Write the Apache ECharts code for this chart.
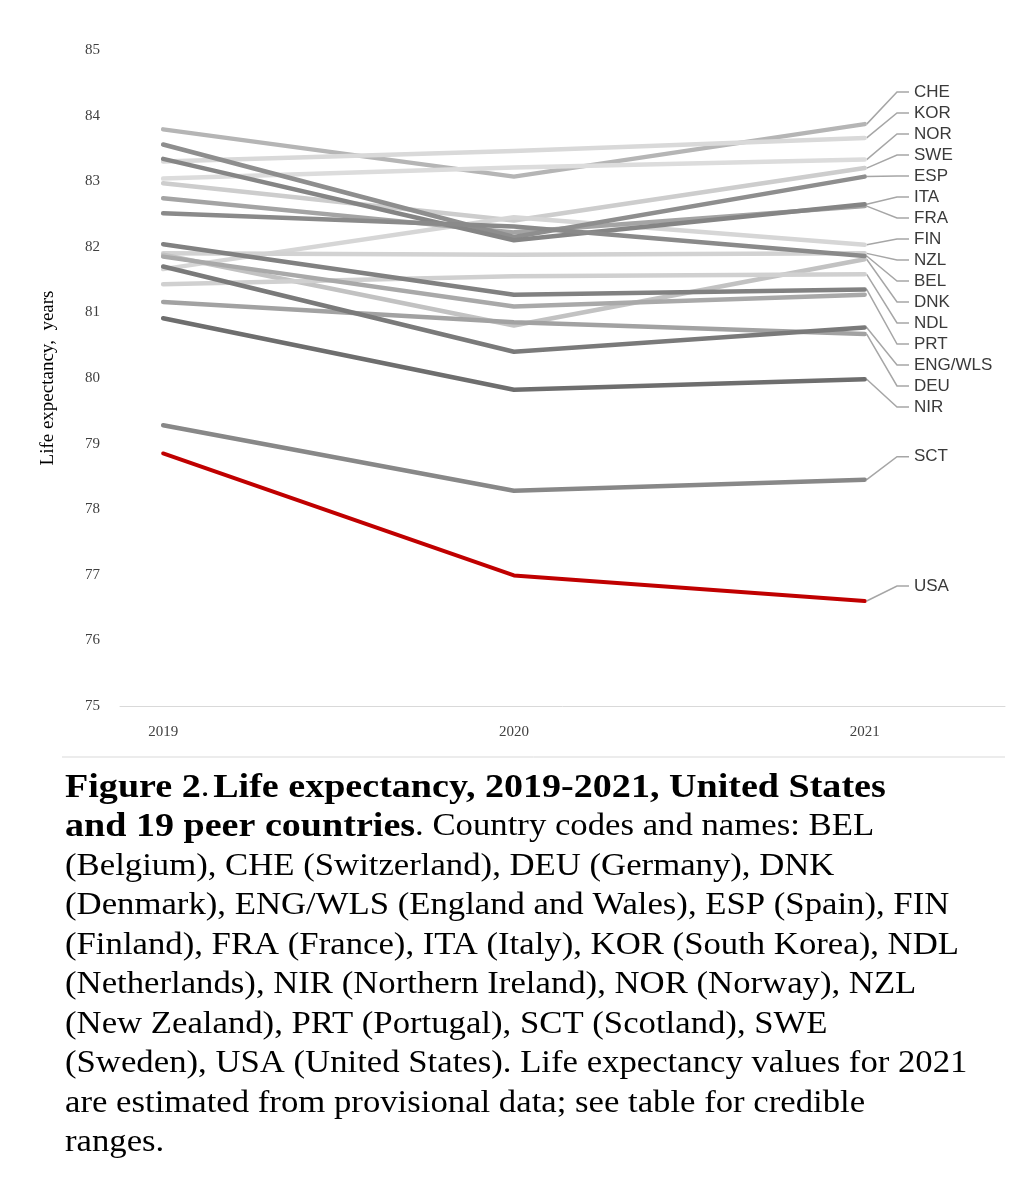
<!DOCTYPE html>
<html><head><meta charset="utf-8">
<script src="https://cdn.jsdelivr.net/npm/echarts@6/dist/echarts.min.js"></script>
<style>html,body{margin:0;padding:0;background:#fff}#c{width:1029px;height:1200px}</style>
</head><body><div id="c"></div>
<script>
// ---------- DATA ----------
const years = [2019, 2020, 2021];
const yTicks = [75, 76, 77, 78, 79, 80, 81, 82, 83, 84, 85];
const yAxisTitle = 'Life expectancy,  years';

const CHE = [83.79, 83.07, 83.87];
const KOR = [83.30, 83.46, 83.66];
const NOR = [83.04, 83.21, 83.33];
const SWE = [82.97, 82.40, 83.20];
const ESP = [83.56, 82.15, 83.07];
const ITA = [83.34, 82.10, 82.65];
const FRA = [82.74, 82.22, 82.62];
const FIN = [81.66, 82.45, 82.03];
const NZL = [81.90, 81.88, 81.90];
const BEL = [82.51, 82.31, 81.86];
const DNK = [81.88, 80.80, 81.81];
const NDL = [81.43, 81.55, 81.58];
const PRT = [82.04, 81.27, 81.35];
const OTHER = [81.85, 81.09, 81.27];
const ENG_WLS = [81.70, 80.40, 80.77];
const DEU = [81.16, 80.85, 80.67];
const NIR = [80.91, 79.82, 79.98];
const SCT = [79.28, 78.28, 78.45];
const USA = [78.85, 76.99, 76.60];

const labelled = ['CHE','KOR','NOR','SWE','ESP','ITA','FRA','FIN','NZL','BEL','DNK','NDL','PRT','ENG/WLS','DEU','NIR','SCT','USA'];
const seriesData = [
  ['CHE', CHE], ['KOR', KOR], ['NOR', NOR], ['SWE', SWE], ['FIN', FIN], ['NZL', NZL],
  ['DNK', DNK], ['NDL', NDL], ['DEU', DEU], ['OTHER', OTHER], ['FRA', FRA], ['ESP', ESP],
  ['ITA', ITA], ['BEL', BEL], ['PRT', PRT], ['ENG/WLS', ENG_WLS], ['NIR', NIR], ['SCT', SCT], ['USA', USA]
];

const captionLines = [
  '{b|Figure 2}{n|.} {b|Life expectancy, 2019-2021, United States}',
  '{b|and 19 peer countries}{n|. Country codes and names: BEL}',
  '{n|(Belgium), CHE (Switzerland), DEU (Germany), DNK}',
  '{n|(Denmark), ENG/WLS (England and Wales), ESP (Spain), FIN}',
  '{n|(Finland), FRA (France), ITA (Italy), KOR (South Korea), NDL}',
  '{n|(Netherlands), NIR (Northern Ireland), NOR (Norway), NZL}',
  '{n|(New Zealand), PRT (Portugal), SCT (Scotland), SWE}',
  '{n|(Sweden), USA (United States). Life expectancy values for 2021}',
  '{n|are estimated from provisional data; see table for credible}',
  '{n|ranges.}'
];

// ---------- STYLE ----------
const colors = {
  'CHE':'#b5b5b5','KOR':'#d9d9d9','NOR':'#dcdcdc','SWE':'#cdcdcd','ESP':'#8e8e8e','ITA':'#858585',
  'FRA':'#a4a4a4','FIN':'#d6d6d6','NZL':'#d2d2d2','BEL':'#8a8a8a','DNK':'#c2c2c2','NDL':'#d0d0d0',
  'PRT':'#818181','OTHER':'#a9a9a9','ENG/WLS':'#7a7a7a','DEU':'#a2a2a2','NIR':'#6e6e6e','SCT':'#888888','USA':'#c00000'
};
const serif = '"Liberation Serif","Times New Roman",serif';
const sans = '"Liberation Sans",Arial,sans-serif';

const chart = echarts.init(document.getElementById('c'));
const option = {
  backgroundColor: '#fff',
  animation: false,
  grid: { left: 120, right: 24, top: 50, bottom: 494 },
  xAxis: {
    type: 'value', min: 2018.877, max: 2021.4,
    axisLine: { show: true, lineStyle: { color: '#d9d9d9', width: 1 } },
    axisTick: { show: false },
    splitLine: { show: false },
    axisLabel: { customValues: years, margin: 19, fontFamily: serif, fontSize: 15, color: '#404040', formatter: v => String(v) }
  },
  yAxis: {
    type: 'value', min: 75, max: 85, interval: 1,
    name: yAxisTitle, nameLocation: 'middle', nameGap: 62,
    nameTextStyle: { fontFamily: serif, fontSize: 19, color: '#000' },
    axisLine: { show: false }, axisTick: { show: false }, splitLine: { show: false },
    axisLabel: { margin: 20, fontFamily: serif, fontSize: 15, color: '#404040' }
  },
  series: seriesData.map(([code, vals]) => ({
    name: code, type: 'line', symbol: 'none', silent: true,
    z: code === 'USA' ? 5 : 2,
    lineStyle: { color: colors[code], width: code === 'USA' ? 4 : 4.5, cap: 'round', join: 'round' },
    data: vals.map((v, i) => [years[i], v])
  }))
};
chart.setOption(option);

// ---------- LABELS & LEADERS ----------
const valueOf = {};
seriesData.forEach(([c, v]) => { valueOf[c] = v; });
const graphics = [];
const labelX = 914, elbowX = 897;
labelled.forEach((code, i) => {
  const v = valueOf[code][2];
  const p = chart.convertToPixel({ gridIndex: 0 }, [years[2], v]);
  let ly;
  if (code === 'SCT') ly = p[1] - 23;
  else if (code === 'USA') ly = p[1] - 15;
  else ly = 92 + i * 21;
  graphics.push({
    type: 'polyline', silent: true,
    shape: { points: [[p[0] + 2, p[1]], [elbowX, ly], [elbowX + 12, ly]] },
    style: { stroke: '#a6a6a6', lineWidth: 1.5, fill: null }
  });
  graphics.push({
    type: 'text', silent: true, x: labelX, y: ly,
    style: { text: code, fontFamily: sans, fontSize: 17, fill: '#3a3a3a', verticalAlign: 'middle', align: 'left' }
  });
});
// divider under chart
graphics.push({ type: 'line', silent: true, shape: { x1: 62, y1: 757, x2: 1005, y2: 757 }, style: { stroke: '#d9d9d9', lineWidth: 1 } });
// caption
graphics.push({
  type: 'text', silent: true, x: 65, y: 768, scaleX: 1.12, scaleY: 1,
  style: {
    text: captionLines.join('\n'),
    fill: '#000',
    verticalAlign: 'top',
    rich: {
      b: { fontFamily: serif, fontSize: 34, fontWeight: 'bold', lineHeight: 39.5, fill: '#000' },
      n: { fontFamily: serif, fontSize: 31, lineHeight: 39.5, fill: '#000' }
    }
  }
});
chart.setOption({ graphic: graphics });
</script>
</body></html>
